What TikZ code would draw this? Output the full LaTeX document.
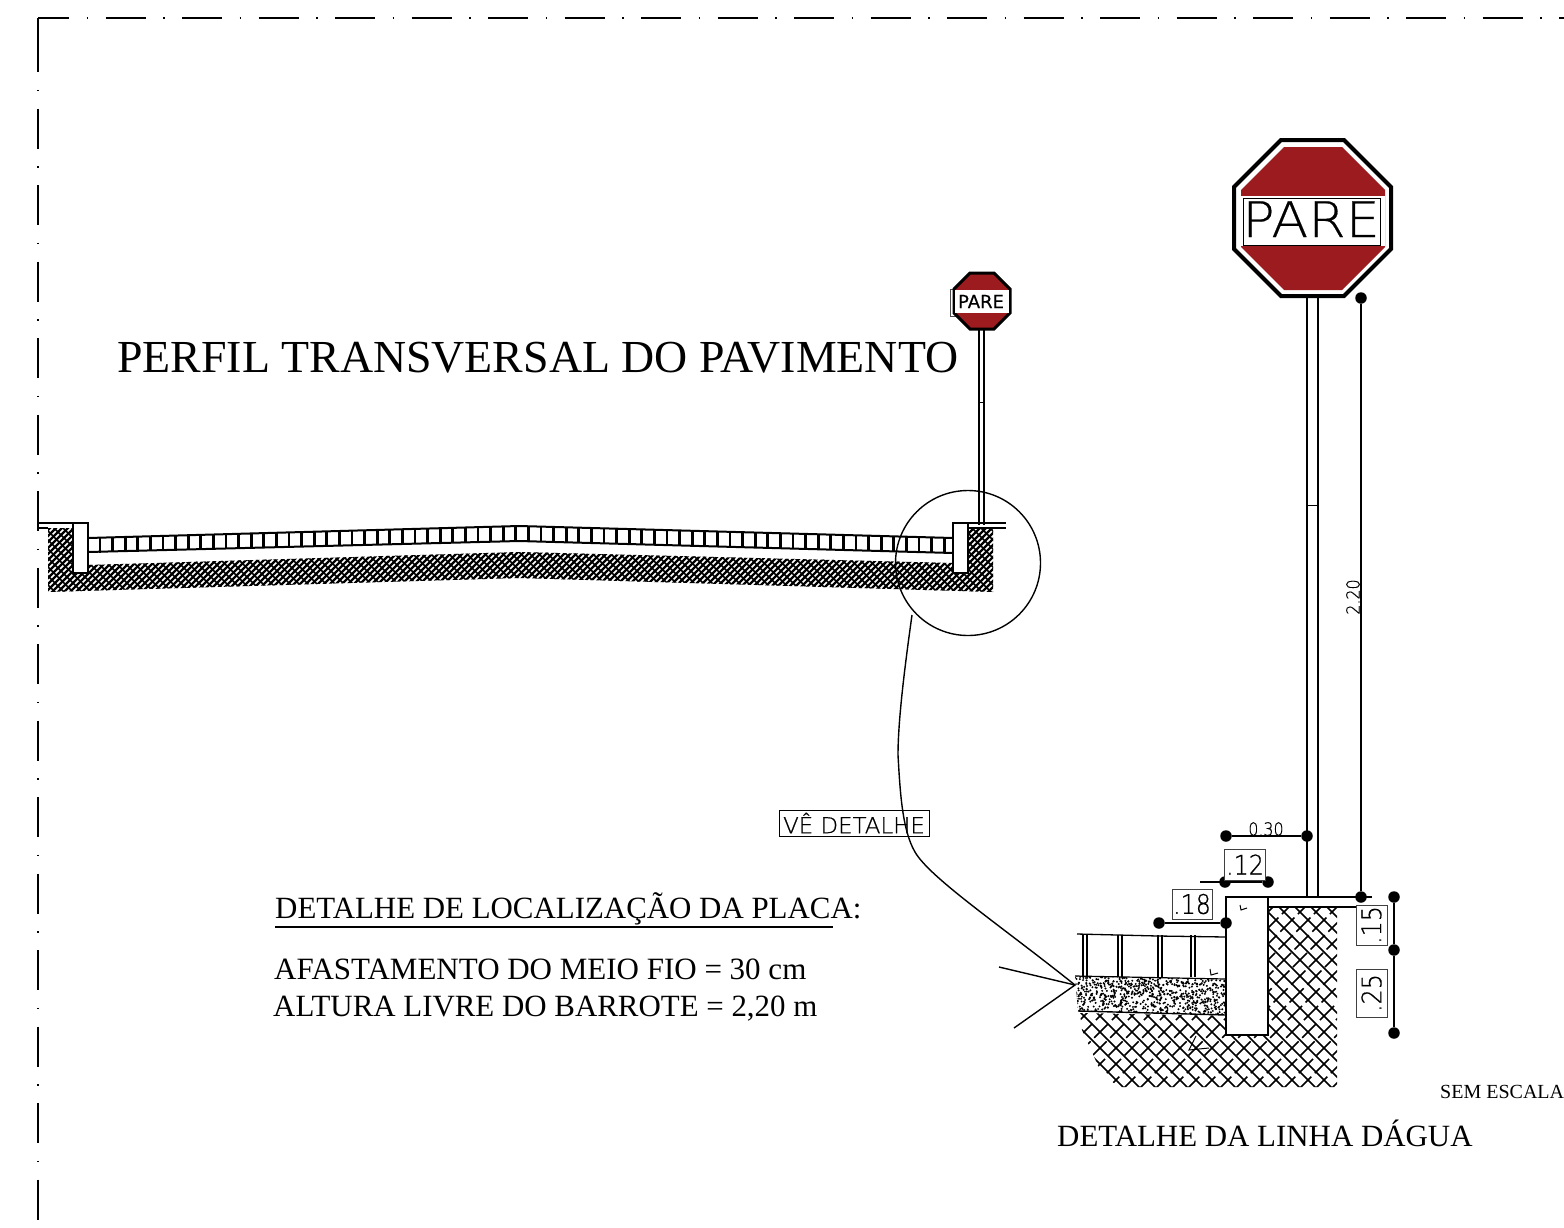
\documentclass[tikz,border=0pt]{standalone}
\usepackage{fontspec}
\setmainfont{Liberation Serif}
\newfontfamily\cadfont[FakeBold=0.5,FakeStretch=0.88]{DejaVu Sans ExtraLight}
\newfontfamily\cadwide[FakeBold=0.4,FakeStretch=1.1]{DejaVu Sans ExtraLight}
\newfontfamily\cadnote[FakeBold=0.8,FakeStretch=1.04]{DejaVu Sans ExtraLight}
\newfontfamily\signfont[FakeBold=0.4]{DejaVu Sans}
\definecolor{signred}{HTML}{9B1B1F}
\tikzset{
  sheetline/.style={line width=1.5pt,dash pattern=on 40pt off 17.5pt on 1.5pt off 17.5pt},
  drawline/.style={line width=1.6pt,black},
  thinline/.style={line width=1.4pt,black},
  hatchfineA/.style={line width=2.3pt,black},
  hatchfineB/.style={line width=1.5pt,black},
  hatchwide/.style={line width=1.5pt,black},
  dimdot/.style={circle,fill=black,inner sep=0pt,minimum size=11.5pt},
  dimbox/.style={draw=black!75,line width=0.8pt,fill=white,inner sep=0pt,font=\cadfont\fontsize{27}{27}\selectfont},
  titletext/.style={anchor=base west,inner sep=0pt,font=\fontsize{#1}{#1}\selectfont}
}
\begin{document}
\begin{tikzpicture}[x=1pt,y=-1pt]
\useasboundingbox (0,0) rectangle (1564,1227);
\fill[white] (0,0) rectangle (1564,1227);
% sheet border
\draw[sheetline,dash phase=9pt] (38,18) -- (1564,18);
\draw[line width=1.5pt] (38,18) -- (38,72);
\draw[sheetline,dash phase=40pt] (38,72) -- (38,1227);
% ---- road profile: hatch
\begin{scope}
\clip (48,528) -- (73,528) -- (73,572) -- (88,572) -- (88,565) -- (519,552) -- (953,563) -- (953,573) -- (968,573) -- (968,527) -- (993,527) -- (993,592) -- (519,578) -- (48,592) -- cycle;
\foreach \k in {-100,-94,...,1100}{
  \draw[hatchfineA] (\k,600) -- (\k+100,500);
}
\foreach \k in {-100,-91,...,1100}{
  \draw[hatchfineB] (\k,500) -- (\k+100,600);
}
\end{scope}
% pavers
\draw[line width=2pt] (88,538) -- (519,526) -- (953,538);
\draw[line width=2pt] (88,552) -- (519,541) -- (953,553);
\foreach \xx in {100,112.6,...,945}{
  \pgfmathsetmacro{\yt}{\xx<519 ? 526+12*(519-\xx)/431 : 526+12*(\xx-519)/434}
  \draw[line width=2.8pt] (\xx,\yt) -- (\xx,\yt+15);
}
% curbs and ground lines
\draw[line width=1.7pt,fill=white] (73,523) rectangle (88,573);
\draw[line width=1.7pt,fill=white] (953,523) rectangle (968,573);
\draw[line width=1.3pt] (38,523) -- (73,523) (38,528) -- (48,528);
\draw[line width=1.3pt] (968,523) -- (1006,523) (968,528) -- (1006,528);
% small pole and sign
\draw[line width=1.2pt] (979,330) -- (979,525) (984,330) -- (984,525);
\draw[line width=0.8pt] (984,402) -- (979,402);
\draw[line width=0.8pt,black!70] (957,289) -- (950,289) -- (950,316) -- (957,316);
\filldraw[fill=signred,draw=black,line width=3pt] (970,273) -- (994,273) -- (1010,289) -- (1010,313) -- (994,329) -- (970,329) -- (954,313) -- (954,289) -- cycle;
\fill[white] (955,290) rectangle (1009,313);
\node[inner sep=0pt,font=\signfont\fontsize{18}{18}\selectfont] (smallpare) at (981,301.5) {PARE};
% detail circle and leader
\coordinate (lead0) at (912,615);
\coordinate (leadtip) at (1075,985);
\draw[line width=1.4pt] (968,563) circle (72.5pt);
\draw[thinline] (lead0) .. controls (905,665) and (898,720) .. (898,755) .. controls (900,790) and (902,830) .. (915,852) .. controls (930,878) and (1000,925) .. (leadtip);
\node[draw=black,line width=0.8pt,fill=none,minimum width=150pt,minimum height=26pt,inner sep=0pt,font=\cadnote\fontsize{22}{22}\selectfont] (verdet) at (854,823) {VÊ DETALHE};
\draw[thinline] (999,967) -- (leadtip) -- (1014,1028);
% titles
\node[titletext=45.85] (t1) at (117,372) {PERFIL TRANSVERSAL DO PAVIMENTO};
\node[titletext=30.9] (t2) at (275,918) {DETALHE DE LOCALIZAÇÃO DA PLACA:};
\draw[line width=1.2pt] (275,927) -- (833,927);
\node[titletext=31] (t3) at (274,979) {AFASTAMENTO DO MEIO FIO = 30 cm};
\node[titletext=30.9] (t4) at (273,1016) {ALTURA LIVRE DO BARROTE = 2,20 m};
\node[titletext=20] (t5) at (1440,1098) {SEM ESCALA};
\node[titletext=30.9] (t6) at (1057,1146) {DETALHE DA LINHA DÁGUA};
% ---- big sign
\draw[line width=4pt,fill=white,draw=black] (1281,140) -- (1344,140) -- (1391,187) -- (1391,249) -- (1344,296) -- (1281,296) -- (1234,249) -- (1234,187) -- cycle;
\fill[signred] (1284,147) -- (1342,147) -- (1385,190) -- (1385,247) -- (1342,290) -- (1284,290) -- (1241,247) -- (1241,190) -- cycle;
\fill[white] (1241,196) rectangle (1385,246);
\draw[line width=1pt] (1243,198) rectangle (1380,245);
\node[inner sep=0pt,anchor=base,font=\cadwide\fontsize{49}{49}\selectfont] (bigpare) at (1311,237) {PARE};
% big pole
\draw[drawline] (1307,298) -- (1307,897) (1318,298) -- (1318,897);
\draw[line width=1pt] (1307,505) -- (1318,505);
% ---- detail hatch
\begin{scope}
\clip (1268,907) -- (1337,907) -- (1337,1087) -- (1118,1087) -- (1100,1070) -- (1082,1030) -- (1080,1013) -- (1226,1016) -- (1226,1035) -- (1268,1035) -- cycle;
\foreach \k in {840,856,...,1400}{
  \draw[hatchwide] (\k,900) -- (\k+200,1100);
}
\foreach \k in {760,776,...,1400}{
  \pgfmathsetmacro{\ph}{mod(\k,32)==0 ? 0 : 12}
  \draw[hatchwide,dash pattern=on 20pt off 5pt,dash phase=\ph pt] (\k,1100) -- (\k+200,900);
}
\end{scope}
% concrete layer
\begin{scope}
\clip (1075,976) -- (1226,979) -- (1226,1015) -- (1078,1011) -- cycle;
\pgfmathsetseed{11}
\foreach \i in {1,...,850}{
  \pgfmathsetmacro{\dx}{1075+151*rnd}
  \pgfmathsetmacro{\dy}{975+41*rnd}
  \fill (\dx,\dy) circle (1.1pt);
}
\end{scope}
\draw[line width=1.2pt] (1075,976) -- (1226,979);
\draw[line width=1.4pt] (1078,1011) -- (1226,1015);
% detail pavers
\draw[line width=1.3pt] (1077,934) -- (1158,936) -- (1226,937);
\foreach \xa in {1083,1118,1158,1191}{
  \draw[line width=1.2pt] (\xa,935) -- (\xa,977) (\xa+4,935) -- (\xa+4,977);
}
% curb
\draw[drawline,fill=white] (1226,897) rectangle (1268,1035);
% surface lines
\draw[drawline] (1268,897) -- (1372,897);
\draw[drawline] (1268,907) -- (1372,907);
% small marks
\draw[line width=1pt] (1240,905) -- (1241,910) -- (1247,908);
\draw[line width=1pt] (1210,969) -- (1211,975) -- (1218,973);
\draw[line width=1pt] (1196,1036) -- (1189,1050) -- (1209,1048);
% dimensions
\node[dimdot] (d220a) at (1361,298) {};
\node[dimdot] (d220b) at (1361,897) {};
\draw[drawline] (d220a) -- (d220b);
\node[rotate=90,inner sep=0pt,font=\cadfont\fontsize{18}{18}\selectfont] (l220) at (1353,597) {2.20};
\node[dimdot] (d30a) at (1226,836) {};
\node[dimdot] (d30b) at (1307,836) {};
\draw[drawline] (d30a) -- (d30b);
\node[inner sep=0pt,font=\cadfont\fontsize{18}{18}\selectfont] (l30) at (1266,829) {0.30};
\coordinate (d12free) at (1200,882);
\node[dimdot] (d12a) at (1225,882) {};
\node[dimdot] (d12b) at (1268,882) {};
\draw[drawline] (d12free) -- (d12b);
\node[dimbox,minimum width=41pt,minimum height=31pt] (l12) at (1245,864.5) {.12};
\node[dimdot] (d18a) at (1159,923) {};
\node[dimdot] (d18b) at (1226,923) {};
\draw[drawline] (d18a) -- (d18b);
\node[dimbox,minimum width=40pt,minimum height=30pt] (l18) at (1192,904) {.18};
\node[dimdot] (dva) at (1394,897) {};
\node[dimdot] (dvb) at (1394,950) {};
\node[dimdot] (dvc) at (1394,1033) {};
\draw[drawline] (dva) -- (dvb) -- (dvc);
\node[dimbox,rotate=90,minimum width=40pt,minimum height=31pt] (l15) at (1371.5,925) {.15};
\node[dimbox,rotate=90,minimum width=48pt,minimum height=31pt] (l25) at (1371.5,993) {.25};
\end{tikzpicture}
\end{document}
